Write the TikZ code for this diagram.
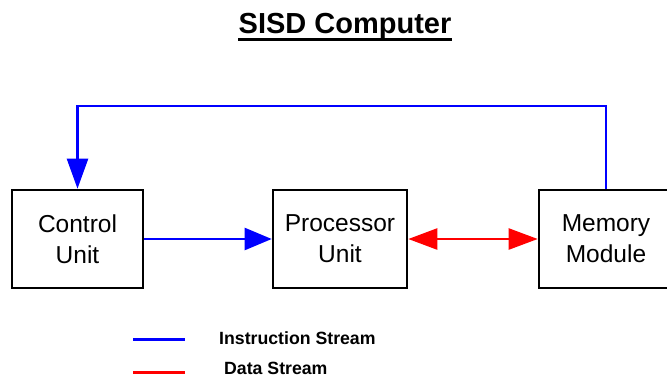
\documentclass[tikz,border=0pt]{standalone}
\usepackage{fontspec}
\setmainfont{Liberation Sans}
\usetikzlibrary{arrows.meta}
\definecolor{iblue}{RGB}{0,0,255}
\definecolor{dred}{RGB}{255,0,0}
\tikzset{
  unitbox/.style={draw=black, line width=2.6pt, fill=white, minimum height=98pt, align=center, inner sep=0pt,
    font=\fontsize{24.5}{31}\selectfont},
  istream/.style={draw=iblue, line width=2.4pt},
  dstream/.style={draw=dred, line width=2.4pt},
  legtext/.style={anchor=base west, inner sep=0pt, font=\bfseries\fontsize{17.7}{20}\selectfont}
}
\begin{document}
\begin{tikzpicture}[x=1pt,y=-1pt]
\useasboundingbox (0,0) rectangle (667,378);
\clip (0,0) rectangle (667,378);
\fill[white] (0,0) rectangle (667,378);

% title
\node[anchor=base, inner sep=0pt, font=\bfseries\fontsize{29}{34}\selectfont] (title) at (345,33) {SISD Computer};
\draw[line width=3pt] ([yshift=-6.5pt]title.base west) -- ([yshift=-6.5pt]title.base east);

% boxes
\node[unitbox, minimum width=131pt] (cu) at (77.5,239) {Control\\Unit};
\node[unitbox, minimum width=134pt] (pu) at (340,239) {Processor\\Unit};
\node[unitbox, minimum width=134pt] (mm) at (606,239) {Memory\\Module};

% instruction stream
\coordinate (tr) at (606,106);
\coordinate (tl) at (77.5,106);
\draw[istream, -{Triangle[length=30pt,width=21pt]}] (mm.north) -- (tr) -- (tl) -- (cu.north);
\draw[istream, -{Triangle[length=27pt,width=22pt]}] (cu.east) -- (pu.west);

% data stream
\draw[dstream, {Triangle[length=29pt,width=21pt]}-{Triangle[length=29pt,width=21pt]}] (pu.east) -- (mm.west);

% legend
\coordinate (lb1) at (133,339);
\coordinate (lb2) at (185,339);
\coordinate (lr1) at (133,372);
\coordinate (lr2) at (185,372);
\draw[istream, line width=3pt] (lb1) -- (lb2);
\draw[dstream, line width=3pt] (lr1) -- (lr2);
\node[legtext] (li) at (219,344.5) {Instruction Stream};
\node[legtext] (ld) at (224,374.5) {Data Stream};
\end{tikzpicture}
\end{document}
